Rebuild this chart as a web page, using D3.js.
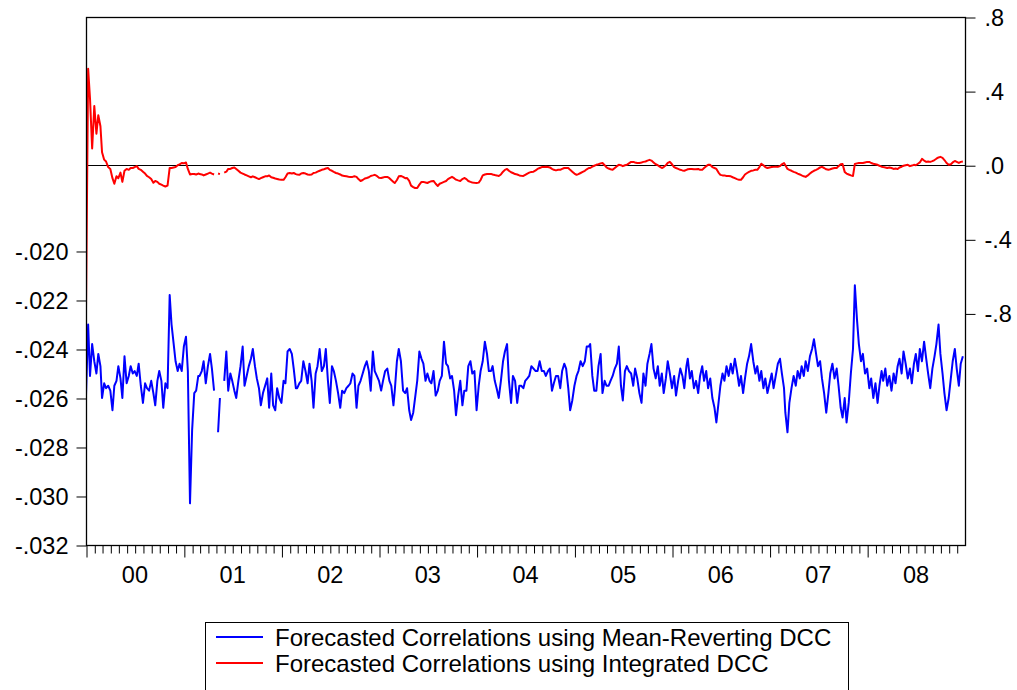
<!DOCTYPE html>
<html>
<head>
<meta charset="utf-8">
<script src="https://cdn.jsdelivr.net/npm/d3@7"></script>
<style>
  body { margin: 0; background: #fff; }
  svg { display: block; font-family: "Liberation Sans", Arial, Helvetica, sans-serif; }
</style>
</head>
<body>
<svg id="chart" width="1017" height="690"></svg>
<script>
// Four observations per month, Jan 2000 - Dec 2008 (null = missing observation)
const meanRevertingDCC = [
  -.0259,-.0230,-.0251,-.0238,-.0245,-.0250,-.0242,-.0247,-.0260,-.0254,-.0256,-.0255,
  -.0257,-.0265,-.0255,-.0253,-.0247,-.0252,-.0260,-.0243,-.0254,-.0251,-.0247,-.0250,
  -.0249,-.0251,-.0246,-.0255,-.0262,-.0254,-.0256,-.0257,-.0253,-.0258,-.0263,-.0253,
  -.0249,-.0253,-.0264,-.0254,-.0256,-.0218,-.0230,-.0238,-.0245,-.0249,-.0246,-.0249,
  -.0239,-.0235,-.0249,-.0303,-.0273,-.0258,-.0257,-.0251,-.0251,-.0249,-.0245,-.0254,
  -.0247,-.0242,-.0248,-.0257,null,-.0274,-.0260,null,-.0253,-.0241,-.0257,-.0250,
  -.0253,-.0257,-.0260,-.0253,-.0247,-.0239,-.0255,-.0251,-.0247,-.0244,-.0240,-.0247,
  -.0252,-.0256,-.0263,-.0258,-.0255,-.0252,-.0264,-.0250,-.0263,-.0265,-.0256,-.0260,
  -.0262,-.0253,-.0254,-.0241,-.0240,-.0242,-.0248,-.0256,-.0256,-.0254,-.0253,-.0245,
  -.0249,-.0254,-.0246,-.0253,-.0264,-.0250,-.0247,-.0240,-.0249,-.0247,-.0240,-.0253,
  -.0262,-.0247,-.0249,-.0253,-.0258,-.0264,-.0257,-.0258,-.0256,-.0255,-.0254,-.0250,
  -.0251,-.0264,-.0255,-.0253,-.0250,-.0247,-.0245,-.0249,-.0257,-.0241,-.0249,-.0251,
  -.0253,-.0257,-.0253,-.0249,-.0248,-.0253,-.0255,-.0263,-.0257,-.0245,-.0240,-.0245,
  -.0257,-.0258,-.0256,-.0265,-.0269,-.0266,-.0260,-.0253,-.0241,-.0244,-.0246,-.0253,
  -.0250,-.0253,-.0254,-.0249,-.0259,-.0257,-.0253,-.0251,-.0237,-.0246,-.0247,-.0252,
  -.0251,-.0257,-.0267,-.0259,-.0253,-.0263,-.0257,-.0257,-.0247,-.0245,-.0250,-.0249,
  -.0265,-.0255,-.0249,-.0245,-.0237,-.0242,-.0249,-.0249,-.0247,-.0253,-.0256,-.0260,
  -.0253,-.0245,-.0241,-.0238,-.0253,-.0262,-.0251,-.0253,-.0262,-.0255,-.0255,-.0256,
  -.0253,-.0252,-.0251,-.0247,-.0248,-.0249,-.0249,-.0245,-.0249,-.0249,-.0251,-.0249,
  -.0248,-.0257,-.0254,-.0251,-.0251,-.0256,-.0249,-.0246,-.0248,-.0256,-.0265,-.0261,
  -.0255,-.0251,-.0249,-.0245,-.0247,-.0245,-.0239,-.0239,-.0238,-.0251,-.0257,-.0257,
  -.0247,-.0242,-.0258,-.0253,-.0255,-.0255,-.0253,-.0251,-.0248,-.0246,-.0239,-.0255,
  -.0261,-.0249,-.0247,-.0249,-.0250,-.0255,-.0248,-.0252,-.0258,-.0262,-.0250,-.0255,
  -.0246,-.0242,-.0238,-.0248,-.0252,-.0247,-.0255,-.0250,-.0258,-.0252,-.0245,-.0250,
  -.0256,-.0251,-.0259,-.0253,-.0248,-.0251,-.0256,-.0247,-.0244,-.0252,-.0249,-.0256,
  -.0253,-.0258,-.0251,-.0247,-.0253,-.0249,-.0256,-.0252,-.0260,-.0264,-.0270,-.0262,
  -.0255,-.0250,-.0253,-.0247,-.0251,-.0246,-.0250,-.0244,-.0249,-.0255,-.0251,-.0258,
  -.0252,-.0246,-.0243,-.0238,-.0245,-.0250,-.0247,-.0253,-.0249,-.0256,-.0252,-.0258,
  -.0254,-.0250,-.0256,-.0251,-.0246,-.0244,-.0250,-.0256,-.0266,-.0274,-.0262,-.0256,
  -.0251,-.0255,-.0249,-.0252,-.0247,-.0251,-.0245,-.0249,-.0243,-.0240,-.0236,-.0242,
  -.0247,-.0245,-.0252,-.0258,-.0266,-.0258,-.0250,-.0246,-.0252,-.0248,-.0255,-.0264,
  -.0268,-.0260,-.0270,-.0262,-.0250,-.0240,-.0214,-.0228,-.0238,-.0245,-.0242,-.0250,
  -.0248,-.0256,-.0252,-.0260,-.0254,-.0262,-.0255,-.0249,-.0253,-.0248,-.0255,-.0251,
  -.0257,-.0250,-.0254,-.0247,-.0244,-.0250,-.0241,-.0246,-.0252,-.0248,-.0254,-.0246,
  -.0242,-.0249,-.0240,-.0245,-.0237,-.0244,-.0250,-.0256,-.0248,-.0243,-.0238,-.0230,
  -.0242,-.0250,-.0258,-.0265,-.0260,-.0252,-.0245,-.0240,-.0248,-.0255,-.0246,-.0243
];

const integratedDCC = [
  -.78,.52,.36,.09,.32,.17,.27,.21,.07,.03,.02,-.01,
  -.02,-.07,-.10,-.06,-.07,-.04,-.09,-.03,-.02,-.025,-.015,-.015,
  -.01,-.005,-.02,-.025,-.035,-.045,-.058,-.065,-.075,-.095,-.085,-.09,
  -.10,-.105,-.11,-.115,-.11,-.015,-.015,-.012,-.01,0,.005,.012,
  .01,.015,-.02,-.05,-.048,-.047,-.05,-.045,-.047,-.05,-.055,-.05,
  -.045,-.04,-.045,-.05,null,-.045,-.048,null,-.04,-.035,-.02,-.02,
  -.015,-.012,-.02,-.03,-.04,-.045,-.05,-.055,-.06,-.065,-.06,-.065,
  -.07,-.075,-.07,-.065,-.06,-.06,-.055,-.065,-.068,-.072,-.074,-.077,
  -.079,-.079,-.065,-.045,-.042,-.045,-.042,-.048,-.05,-.052,-.045,-.042,
  -.045,-.05,-.052,-.05,-.042,-.04,-.035,-.03,-.025,-.022,-.018,-.015,
  -.025,-.03,-.036,-.042,-.045,-.05,-.056,-.058,-.06,-.062,-.063,-.063,
  -.06,-.063,-.075,-.085,-.08,-.072,-.069,-.065,-.058,-.055,-.052,-.058,
  -.068,-.069,-.066,-.063,-.063,-.07,-.08,-.09,-.096,-.08,-.06,-.058,
  -.063,-.07,-.069,-.085,-.11,-.118,-.123,-.123,-.105,-.09,-.09,-.093,
  -.096,-.09,-.087,-.085,-.10,-.112,-.10,-.095,-.09,-.085,-.075,-.068,
  -.063,-.07,-.078,-.082,-.085,-.075,-.069,-.075,-.085,-.09,-.093,-.095,
  -.096,-.094,-.08,-.055,-.05,-.048,-.047,-.047,-.05,-.053,-.055,-.058,
  -.05,-.035,-.025,-.02,-.03,-.038,-.042,-.048,-.05,-.055,-.057,-.058,
  -.052,-.045,-.04,-.036,-.035,-.028,-.02,-.015,-.01,-.01,-.008,-.01,
  -.012,-.02,-.025,-.028,-.025,-.025,-.02,-.015,-.015,-.015,-.025,-.035,
  -.045,-.052,-.048,-.042,-.036,-.03,-.022,-.015,-.015,-.008,-.003,.002,
  .005,.01,.012,0,-.012,-.018,-.022,-.025,-.015,-.005,.002,0,
  -.005,0,.002,.01,.018,.018,.015,.012,.012,.015,.018,.02,
  .025,.029,.025,.015,.005,0,-.008,-.015,-.01,0,.012,.018,
  .005,-.01,-.015,-.02,-.025,-.028,-.03,-.025,-.022,-.02,-.02,-.022,
  -.022,-.02,-.025,-.025,-.015,-.005,.002,.002,-.01,-.015,-.02,-.04,
  -.052,-.055,-.055,-.058,-.058,-.06,-.065,-.07,-.075,-.079,-.079,-.065,
  -.05,-.042,-.036,-.03,-.028,-.025,-.025,-.01,.008,0,-.01,-.015,
  -.012,-.01,-.009,-.008,-.009,-.005,.005,.012,0,-.02,-.025,-.03,
  -.036,-.04,-.045,-.05,-.055,-.06,-.063,-.055,-.045,-.036,-.03,-.025,
  -.02,-.012,-.009,-.015,-.022,-.025,-.022,-.018,-.015,-.015,-.005,.005,
  .007,-.036,-.045,-.05,-.055,-.058,.007,.01,.012,.012,.012,.015,
  .018,.018,.012,.008,.005,.002,-.003,-.008,-.01,-.012,-.015,-.012,
  -.015,-.02,-.018,-.02,-.012,-.008,-.003,0,.002,-.005,-.002,.002,
  0,.008,.015,.034,.025,.018,.02,.018,.022,.028,.035,.042,
  .045,.04,.028,.012,.002,.005,.015,.023,.018,.012,.018,.02
];

const leftTickValues  = [-0.020, -0.022, -0.024, -0.026, -0.028, -0.030, -0.032];
const leftTickLabels  = ["-.020", "-.022", "-.024", "-.026", "-.028", "-.030", "-.032"];
const rightTickValues = [0.8, 0.4, 0.0, -0.4, -0.8];
const rightTickLabels = [".8", ".4", ".0", "-.4", "-.8"];
const yearLabels = ["00", "01", "02", "03", "04", "05", "06", "07", "08"];
const seriesNames = [
  "Forecasted Correlations using Mean-Reverting DCC",
  "Forecasted Correlations using Integrated DCC"
];
const seriesColors = ["#0000ff", "#ff0000"];

// observation dates: four per month
const obsDates = meanRevertingDCC.map((_, i) =>
  new Date(2000, Math.floor(i / 4), 1 + Math.round((i % 4) * 7.6)));

const svg = d3.select("#chart");
const L = 86, R = 965, T = 17, B = 545;
const fontSize = 23.5;

const x = d3.scaleTime()
  .domain([new Date(2000, 0, 1), new Date(2009, 0, 1)])
  .range([L, R]);
const yLeft = d3.scaleLinear().domain([-0.032, -0.01045]).range([B, T]);
const yRight = d3.scaleLinear().domain([-2.05, 0.8]).range([B, T]);

svg.append("defs").append("clipPath").attr("id", "plotClip")
  .append("rect").attr("x", L).attr("y", T).attr("width", R - L).attr("height", B - T);

// zero reference line for the right scale
svg.append("line")
  .attr("x1", L).attr("x2", R)
  .attr("y1", Math.round(yRight(0)) + 0.5).attr("y2", Math.round(yRight(0)) + 0.5)
  .attr("stroke", "#000").attr("stroke-width", 1);

const plot = svg.append("g").attr("clip-path", "url(#plotClip)");

const lineLeft = d3.line()
  .defined(d => d.v !== null)
  .x(d => x(d.date)).y(d => yLeft(d.v));
const lineRight = d3.line()
  .defined(d => d.v !== null)
  .x(d => x(d.date)).y(d => yRight(d.v));

plot.append("path")
  .datum(meanRevertingDCC.map((v, i) => ({ date: obsDates[i], v })))
  .attr("d", lineLeft)
  .attr("fill", "none").attr("stroke", seriesColors[0])
  .attr("stroke-width", 2).attr("stroke-linejoin", "round");

plot.append("path")
  .datum(integratedDCC.map((v, i) => ({ date: obsDates[i], v })))
  .attr("d", lineRight)
  .attr("fill", "none").attr("stroke", seriesColors[1])
  .attr("stroke-width", 2).attr("stroke-linejoin", "round");

// frame
svg.append("rect")
  .attr("x", L + 0.5).attr("y", T + 0.5)
  .attr("width", R - L).attr("height", B - T)
  .attr("fill", "none").attr("stroke", "#000").attr("stroke-width", 1.3);

// left axis
const axL = svg.append("g").attr("transform", `translate(${L + 0.5},0.5)`)
  .call(d3.axisLeft(yLeft).tickValues(leftTickValues)
    .tickFormat((d, i) => leftTickLabels[i]).tickSize(10).tickPadding(8));
axL.select(".domain").remove();

// right axis
const axR = svg.append("g").attr("transform", `translate(${R + 0.5},0.5)`)
  .call(d3.axisRight(yRight).tickValues(rightTickValues)
    .tickFormat((d, i) => rightTickLabels[i]).tickSize(10).tickPadding(9));
axR.select(".domain").remove();

[axL, axR].forEach(g => {
  g.selectAll("text").attr("font-size", fontSize).attr("fill", "#000")
    .attr("font-family", "Liberation Sans, Arial, sans-serif");
  g.selectAll("line").attr("stroke", "#000");
});

// bottom axis: monthly ticks, longer at January
const months = d3.timeMonth.range(new Date(2000, 0, 1), new Date(2009, 0, 1));
const axB = svg.append("g").attr("transform", `translate(0.5,${B + 0.5})`)
  .call(d3.axisBottom(x).tickValues(months).tickFormat("").tickSize(8));
axB.select(".domain").remove();
axB.selectAll(".tick line")
  .attr("stroke", "#000")
  .attr("y2", d => d.getMonth() === 0 ? 12 : 8);

svg.append("g").selectAll("text")
  .data(yearLabels)
  .join("text")
  .attr("x", (d, i) => (x(new Date(2000 + i, 0, 1)) + x(new Date(2001 + i, 0, 1))) / 2)
  .attr("y", 575)
  .attr("text-anchor", "middle")
  .attr("dominant-baseline", "central")
  .attr("font-size", fontSize)
  .attr("fill", "#000")
  .text(d => d);

// legend
const legend = svg.append("g");
legend.append("rect")
  .attr("x", 205.5).attr("y", 622.5).attr("width", 643).attr("height", 80)
  .attr("fill", "#fff").attr("stroke", "#000").attr("stroke-width", 1);
const items = legend.selectAll("g.item").data(seriesNames).join("g")
  .attr("class", "item")
  .attr("transform", (d, i) => `translate(0,${637 + i * 26})`);
items.append("line")
  .attr("x1", 216).attr("x2", 263).attr("y1", 0).attr("y2", 0)
  .attr("stroke", (d, i) => seriesColors[i]).attr("stroke-width", 2);
items.append("text")
  .attr("x", 275).attr("y", 0)
  .attr("dominant-baseline", "central")
  .attr("font-size", 24)
  .attr("fill", "#000")
  .text(d => d);
</script>
</body>
</html>
